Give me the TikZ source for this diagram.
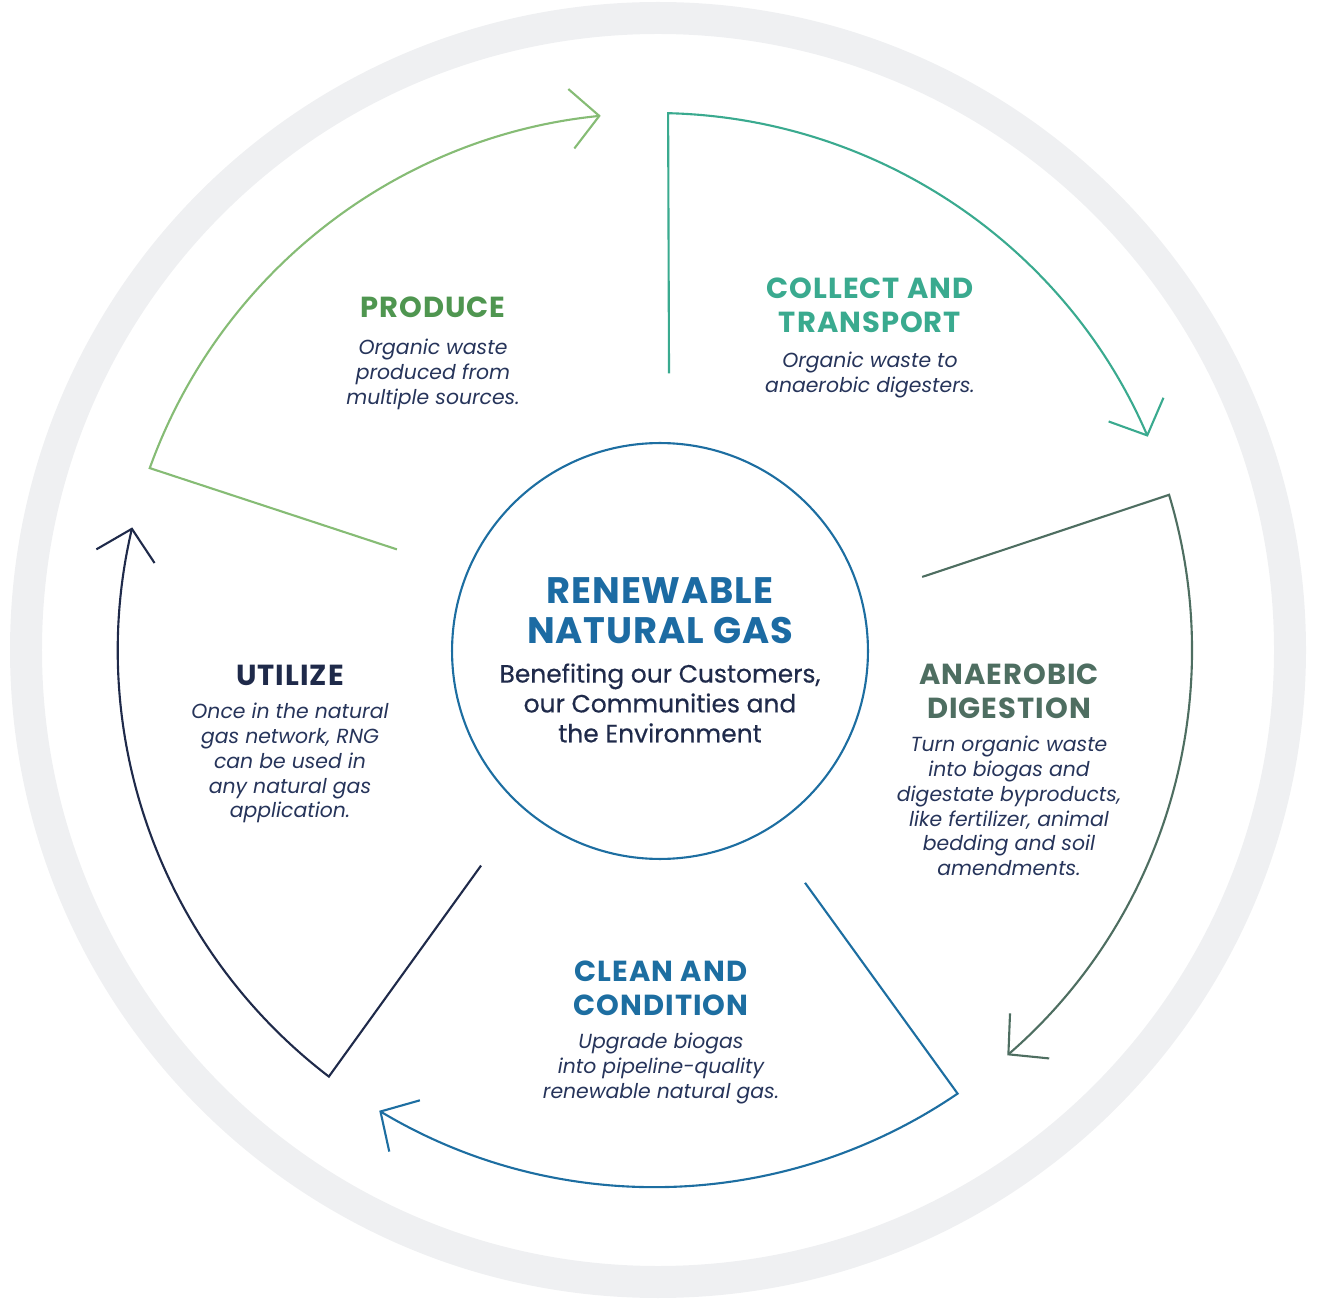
\documentclass[tikz,border=0pt]{standalone}
\usepackage{fontspec}
\setmainfont{Poppins}
\usetikzlibrary{arrows.meta,calc}

\definecolor{ringgray}{HTML}{EFF0F2}
\definecolor{producegreen}{HTML}{86BC75}
\definecolor{producehead}{HTML}{4F9650}
\definecolor{collectteal}{HTML}{3AAA8F}
\definecolor{digestgray}{HTML}{4E6E61}
\definecolor{cleanblue}{HTML}{1D6EA1}
\definecolor{utilizenavy}{HTML}{1F2A4A}
\definecolor{bodynavy}{HTML}{26345A}
\definecolor{titleblue}{HTML}{1C6BA3}

\begin{document}
\begin{tikzpicture}[x=0.02cm, y=0.02cm,
  stagehead/.style={font=\fontsize{16.5}{19.3}\selectfont\bfseries\addfontfeature{LetterSpace=3.5}, align=center, inner sep=0},
  stagetext/.style={font=\fontsize{11.6}{14.1}\selectfont\itshape, text=bodynavy, align=center, inner sep=0, anchor=north},
  cyclearrow/.style={line width=1.2pt, -{Straight Barb[length=16pt, width=34pt]}}]
\useasboundingbox (0,0) rectangle (1322,-1310);
%% grey outer ring
\draw[ringgray, line width=0.64cm] (658,-650) circle (632);
%% the five stage arrows, clockwise
\coordinate (hub) at (655,-650);
\foreach \a/\b/\col in {199.8/264.2/producegreen, 271.4/336.6/collectteal,
  343.2/409/digestgray, 55.7/120.9/cleanblue, 127.4/193.2/utilizenavy} {
  \draw[cyclearrow, \col] ($(hub)+(-\a-1.5:277)$) -- ($(hub)+(-\a:537)$)
    arc[start angle=-\a, end angle=-\b, radius=537];
}
\node[draw=cleanblue, line width=1.2pt, circle, minimum size=8.32cm] (core) at (660,-651) {};
\node[font=\fontsize{21}{22.7}\selectfont\bfseries\addfontfeature{LetterSpace=2.5}, text=titleblue, align=center] (title) at (660,-611) {RENEWABLE\\NATURAL GAS};
\node[font=\fontsize{14.2}{17}\selectfont\addfontfeature{FakeBold=0.4}, text=utilizenavy, align=center] (motto) at (660,-703) {Benefiting our Customers,\\our Communities and\\the Environment};
%% stage labels
\node[stagehead, text=producehead] (produce) at (433,-307) {PRODUCE};
\node[stagetext] (producetxt) at (433,-339) {Organic waste\\produced from\\multiple sources.};
\node[stagehead, text=collectteal] (collect) at (870,-305) {COLLECT AND\\TRANSPORT};
\node[stagetext] (collecttxt) at (870,-352) {Organic waste to\\anaerobic digesters.};
\node[stagehead, text=digestgray] (digest) at (1009,-691) {ANAEROBIC\\DIGESTION};
\node[stagetext] (digesttxt) at (1009,-736) {Turn organic waste\\into biogas and\\digestate byproducts,\\like fertilizer, animal\\bedding and soil\\amendments.};
\node[stagehead, text=cleanblue] (clean) at (661,-988) {CLEAN AND\\CONDITION};
\node[stagetext] (cleantxt) at (661,-1033) {Upgrade biogas\\into pipeline-quality\\renewable natural gas.};
\node[stagehead, text=utilizenavy] (utilize) at (290,-675) {UTILIZE};
\node[stagetext] (utilizetxt) at (290,-703) {Once in the natural\\gas network, RNG\\can be used in\\any natural gas\\application.};
\end{tikzpicture}
\end{document}
